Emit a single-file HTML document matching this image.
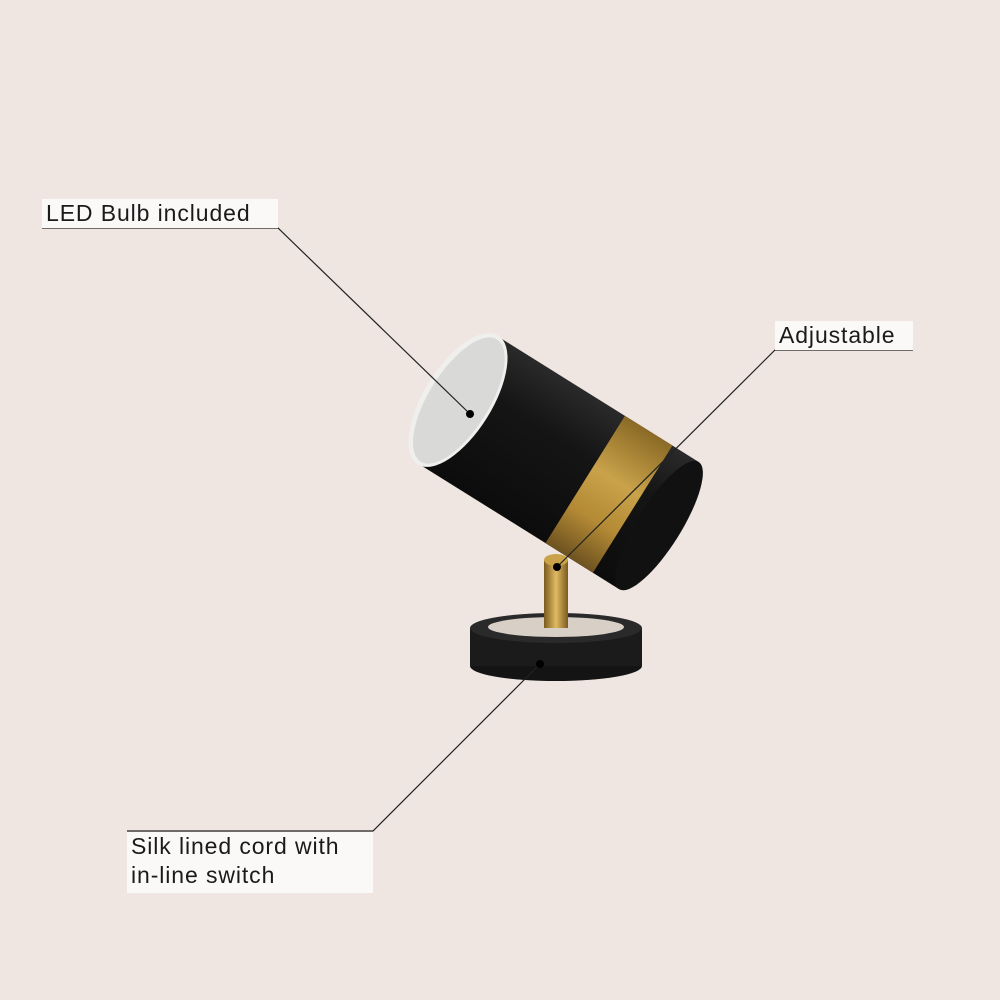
<!DOCTYPE html>
<html><head><meta charset="utf-8"><style>
html,body{margin:0;padding:0}
body{width:1000px;height:1000px;background:#efe6e1;position:relative;overflow:hidden;font-family:"Liberation Sans",sans-serif;color:#1a1a1a}
.lb{position:absolute;background:#fbf9f8;font-size:23px;letter-spacing:0.9px;line-height:29px;white-space:nowrap;padding-left:4px}
</style></head><body>
<svg width="1000" height="1000" style="position:absolute;left:0;top:0">
<defs>
<linearGradient id="blk" x1="0" y1="0" x2="0" y2="1">
<stop offset="0" stop-color="#2a2a2a"/><stop offset="0.35" stop-color="#151515"/><stop offset="1" stop-color="#0c0c0c"/></linearGradient>
<linearGradient id="gld" x1="0" y1="0" x2="0" y2="1">
<stop offset="0" stop-color="#8a6a25"/><stop offset="0.4" stop-color="#c9a24a"/><stop offset="0.7" stop-color="#b48a35"/><stop offset="1" stop-color="#6d5220"/></linearGradient>
<linearGradient id="stem" x1="0" y1="0" x2="1" y2="0">
<stop offset="0" stop-color="#7a5a1e"/><stop offset="0.5" stop-color="#e0bb63"/><stop offset="1" stop-color="#7a5a1e"/></linearGradient>
</defs>
<!-- base -->
<ellipse cx="556" cy="666" rx="86" ry="15" fill="#141414"/>
<rect x="470" y="628" width="172" height="38" fill="#1b1b1b"/>
<ellipse cx="556" cy="628" rx="86" ry="15" fill="#2a2a2a"/>
<ellipse cx="556" cy="627" rx="68" ry="10" fill="#d8cfc6"/>
<!-- stem -->
<rect x="544" y="560" width="24" height="68" fill="url(#stem)"/>
<ellipse cx="556" cy="560" rx="12" ry="6" fill="#c9a24a"/>
<!-- cylinder -->
<g transform="translate(458,400) rotate(32)">
<rect x="0" y="-75" width="237" height="150" fill="url(#blk)"/>
<rect x="150" y="-75" width="56" height="150" fill="url(#gld)"/>
<ellipse cx="237" cy="0" rx="22" ry="75" fill="#111"/>
<ellipse cx="0" cy="0" rx="34" ry="76" fill="#efefed"/>
<ellipse cx="1" cy="0" rx="30" ry="72" fill="#d9d9d7"/>
</g>
<!-- connectors -->
<g stroke="#222" stroke-width="1.2" fill="none">
<polyline points="42,228 278,228 470,414"/>
<polyline points="913,350 775,350 557,567"/>
<polyline points="127,831 373,831 540,664"/>
</g>
<circle cx="470" cy="414" r="4" fill="#000"/>
<circle cx="557" cy="567" r="4" fill="#000"/>
<circle cx="540" cy="664" r="4" fill="#000"/>
</svg>
<div class="lb" style="left:42px;top:199px;width:232px">LED Bulb included</div>
<div class="lb" style="left:775px;top:321px;width:134px">Adjustable</div>
<div class="lb" style="left:127px;top:832px;width:242px;height:61px">Silk lined cord with<br>in-line switch</div>
</body></html>
